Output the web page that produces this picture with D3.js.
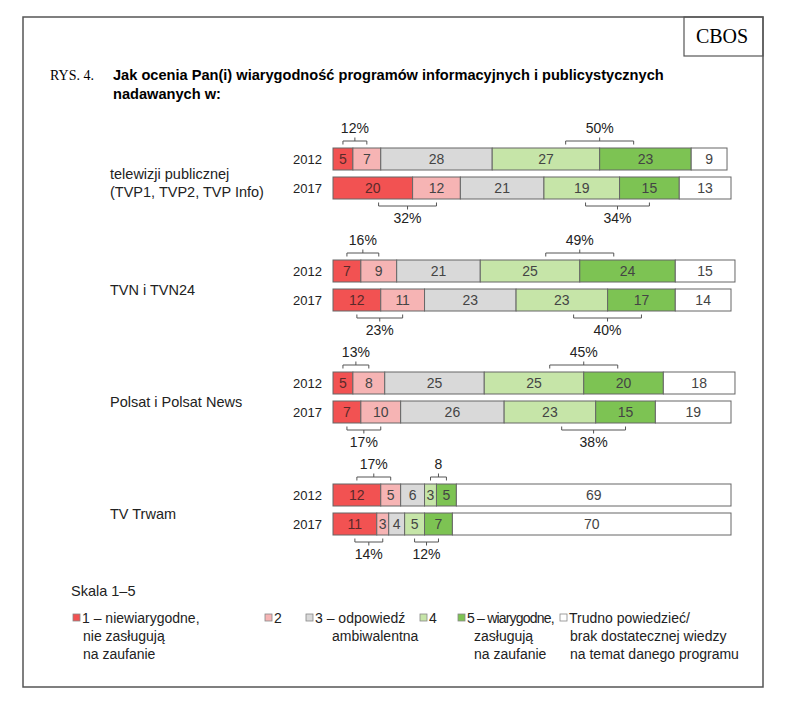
<!DOCTYPE html>
<html>
<head>
<meta charset="utf-8">
<script src="https://cdn.jsdelivr.net/npm/d3@7"></script>
<style>
  body { margin: 0; background: #fff; }
  text { font-family: Arial, "Liberation Sans", sans-serif; }
</style>
</head>
<body>
<script>
let svgWidth = 786;
let svgHeight = 708;

// data
const channels = ["telewizji publicznej|(TVP1, TVP2, TVP Info)", "TVN i TVN24", "Polsat i Polsat News", "TV Trwam"];
const years = ["2012", "2017"];
const values2012 = [[5, 7, 28, 27, 23, 9], [7, 9, 21, 25, 24, 15], [5, 8, 25, 25, 20, 18], [12, 5, 6, 3, 5, 69]];
const values2017 = [[20, 12, 21, 19, 15, 13], [12, 11, 23, 23, 17, 14], [7, 10, 26, 23, 15, 19], [11, 3, 4, 5, 7, 70]];
const negLabels2012 = ["12%", "16%", "13%", "17%"];
const posLabels2012 = ["50%", "49%", "45%", "8"];
const negLabels2017 = ["32%", "23%", "17%", "14%"];
const posLabels2017 = ["34%", "40%", "38%", "12%"];
const legendLabels = [
    ["1 – niewiarygodne,", "nie zasługują", "na zaufanie"],
    ["2"],
    ["3  – odpowiedź", "ambiwalentna"],
    ["4"],
    ["5 – wiarygodne,", "zasługują", "na zaufanie"],
    ["Trudno powiedzieć/", "brak dostatecznej wiedzy", "na temat danego programu"]
];
const colors = ["#f25252", "#f6b4b4", "#d9d9d9", "#c6e5a8", "#7dc353", "#ffffff"];

let svg = d3.select("body")
    .append("svg")
    .attr("width", svgWidth)
    .attr("height", svgHeight)

// frame + CBOS box
svg.append("rect")
    .attr("x", 23).attr("y", 17).attr("width", 740).attr("height", 670)
    .attr("fill", "none").attr("stroke", "#555").attr("stroke-width", 1.5)
svg.append("rect")
    .attr("x", 684).attr("y", 17).attr("width", 79).attr("height", 39)
    .attr("fill", "none").attr("stroke", "#555").attr("stroke-width", 1.2)
svg.append("text")
    .attr("x", 722).attr("y", 43)
    .attr("text-anchor", "middle")
    .style("font-family", "'Liberation Serif', 'Times New Roman', serif")
    .style("font-size", "20px")
    .text("CBOS")

svg.append("text")
    .attr("x", 50).attr("y", 80)
    .style("font-family", "'Liberation Serif', 'Times New Roman', serif")
    .style("font-size", "14px")
    .text("RYS. 4.")
svg.append("text")
    .attr("x", 113).attr("y", 80)
    .style("font-size", "14.6px").style("font-weight", "bold")
    .text("Jak ocenia Pan(i) wiarygodność programów informacyjnych i publicystycznych")
svg.append("text")
    .attr("x", 113).attr("y", 99)
    .style("font-size", "14.6px").style("font-weight", "bold")
    .text("nadawanych w:")

let x = d3.scaleLinear().domain([0, 100]).range([333, 731]);
let groupY = d3.scaleBand().domain(channels).range([148, 148 + 4 * 112]);
let yearY = d3.scaleBand().domain(years).range([0, 51]).paddingInner(7 / 29);
let barH = yearY.bandwidth();

function stackRow(vals) {
    let acc = 0;
    return vals.map((v, i) => {
        let d = { i: i, v: v, x0: acc, x1: acc + v };
        acc += v;
        return d;
    });
}

// bracket between two adjacent segments, above (dir=-1) or below (dir=1) the bar
function bracket(g, segs, a, yEdge, dir, label) {
    let bound = x(segs[a].x1);
    let left = bound - Math.min((x(segs[a].x1) - x(segs[a].x0)) / 2, 34);
    let right = bound + Math.min((x(segs[a + 1].x1) - x(segs[a + 1].x0)) / 2, 34);
    let yl = yEdge + dir * 7;
    let mid = (left + right) / 2;
    let path = d3.path();
    path.moveTo(left, yEdge + dir * 3.5);
    path.lineTo(left, yl);
    path.lineTo(right, yl);
    path.lineTo(right, yEdge + dir * 3.5);
    path.moveTo(mid, yl);
    path.lineTo(mid, yl + dir * 3.5);
    g.append("path")
        .attr("d", path.toString())
        .attr("fill", "none")
        .attr("stroke", "#555")
        .attr("stroke-width", 1)
    g.append("text")
        .attr("x", mid)
        .attr("y", dir < 0 ? yl - 8 : yl + 17)
        .attr("text-anchor", "middle")
        .style("font-size", "14px")
        .attr("fill", "#222")
        .text(label)
}

channels.forEach(function (ch, ci) {
    let g = svg.append("g")
        .attr("transform", `translate(0,${groupY(ch)})`);

    let lines = ch.split("|");
    let midY = 51 / 2;
    lines.forEach((t, li) => {
        g.append("text")
            .attr("x", 110)
            .attr("y", lines.length > 1 ? midY + 5 + li * 18 : midY + 9)
            .style("font-size", "14.5px")
            .attr("fill", "#222")
            .text(t)
    });

    [values2012[ci], values2017[ci]].forEach(function (vals, yi) {
        let yr = years[yi];
        let top = yearY(yr);
        let segs = stackRow(vals);

        g.append("text")
            .attr("x", 322)
            .attr("y", top + barH / 2 + 4.5)
            .attr("text-anchor", "end")
            .style("font-size", "13px")
            .attr("fill", "#222")
            .text(yr)

        g.selectAll(null)
            .data(segs)
            .enter()
            .append("rect")
            .attr("x", d => x(d.x0))
            .attr("y", top)
            .attr("width", d => x(d.x1) - x(d.x0))
            .attr("height", barH)
            .attr("fill", d => colors[d.i])
            .attr("stroke", "#666")
            .attr("stroke-width", 1)

        g.selectAll(null)
            .data(segs)
            .enter()
            .append("text")
            .attr("x", d => (x(d.x0) + x(d.x1)) / 2)
            .attr("y", top + barH / 2 + 5)
            .attr("text-anchor", "middle")
            .style("font-size", "14px")
            .attr("fill", d => d.i === 0 ? "#5a2a2a" : "#444")
            .text(d => d.v)

        if (yi === 0) {
            bracket(g, segs, 0, top, -1, negLabels2012[ci]);
            bracket(g, segs, 3, top, -1, posLabels2012[ci]);
        } else {
            bracket(g, segs, 0, top + barH, 1, negLabels2017[ci]);
            bracket(g, segs, 3, top + barH, 1, posLabels2017[ci]);
        }
    });
});

// legend
svg.append("text")
    .attr("x", 71).attr("y", 596)
    .style("font-size", "14.5px")
    .attr("fill", "#222")
    .text("Skala 1–5")

let legendX = [73, 265, 306, 420, 458, 560];
let legendIndent = [10, 0, 26, 0, 16, 10];
legendLabels.forEach(function (lines, i) {
    let lg = svg.append("g").attr("transform", `translate(${legendX[i]},0)`);
    lg.append("rect")
        .attr("x", 0).attr("y", 614)
        .attr("width", 7).attr("height", 7)
        .attr("fill", colors[i])
        .attr("stroke", "#888")
        .attr("stroke-width", 0.8)
    lines.forEach((t, li) => {
        lg.append("text")
            .attr("x", li === 0 ? 9 : legendIndent[i])
            .attr("y", 623 + li * 18)
            .style("font-size", "14px")
            .style("letter-spacing", i === 4 && li === 0 ? "-0.8px" : null)
            .attr("fill", "#222")
            .text(t)
    });
});
</script>
</body>
</html>
